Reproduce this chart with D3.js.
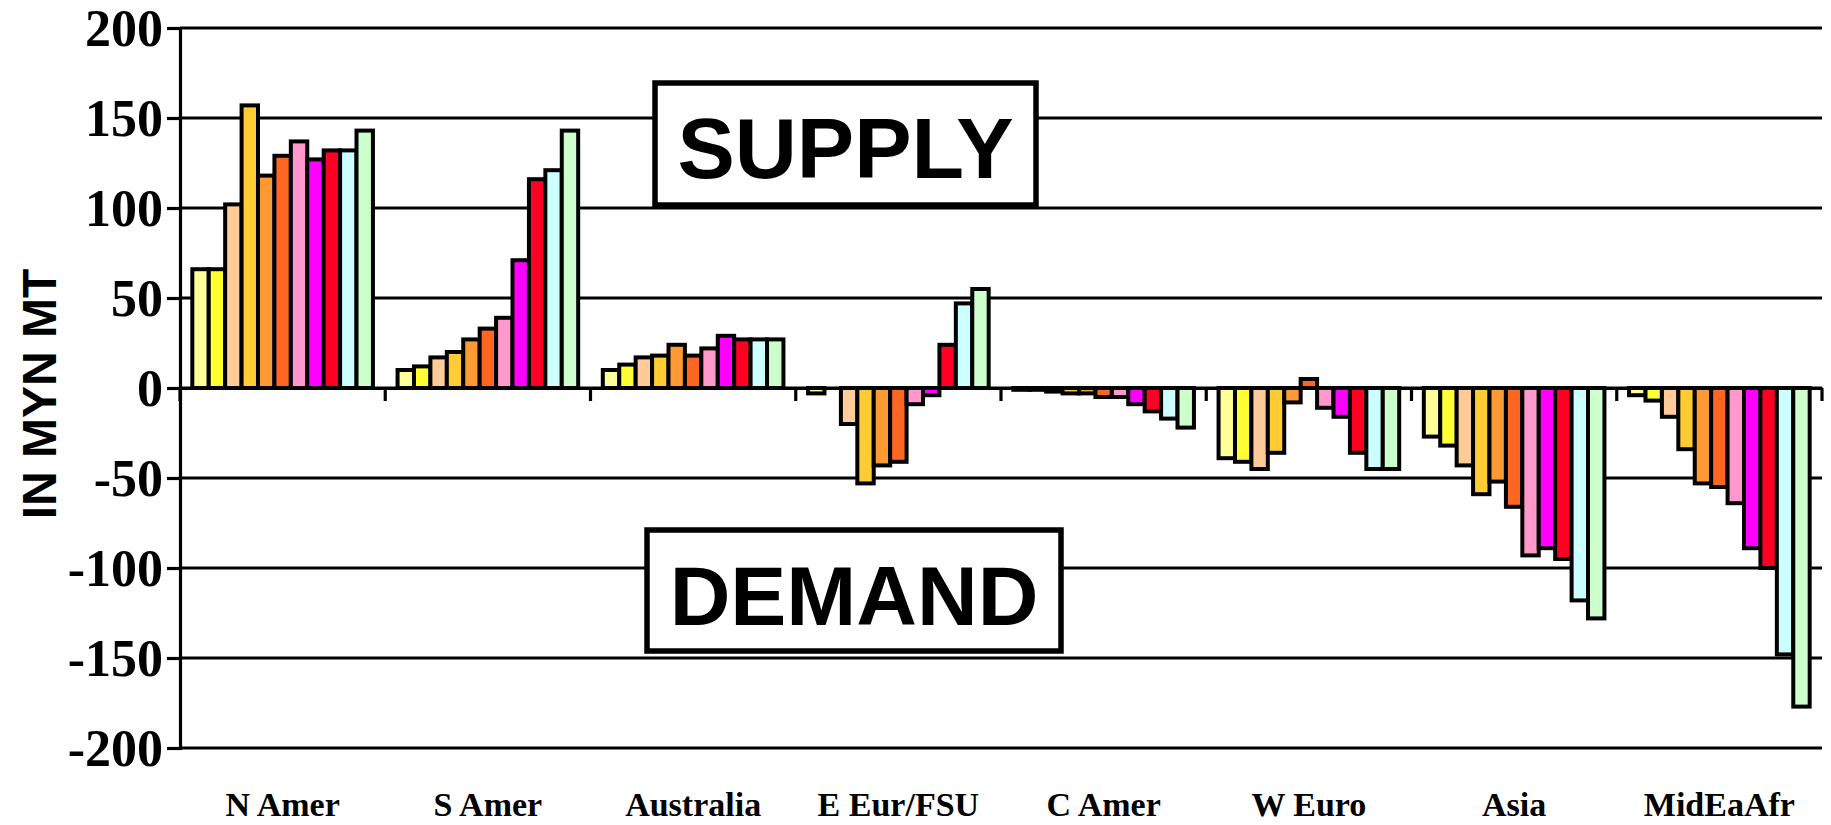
<!DOCTYPE html>
<html>
<head>
<meta charset="utf-8">
<script src="https://cdn.jsdelivr.net/npm/d3@7"></script>
<style>
  html, body { margin: 0; padding: 0; background: #fff; }
  svg { display: block; }
</style>
</head>
<body>
<script>
const categories = ["N Amer", "S Amer", "Australia", "E Eur/FSU", "C Amer", "W Euro", "Asia", "MidEaAfr"];
const seriesColors = ["#FFFF99", "#FFFF33", "#FFCC99", "#FFCC33", "#FF9933", "#FF6622", "#FF99CC", "#FF00FF", "#FF0022", "#CCFFFF", "#CCFFCC"];
const nAmer     = [66, 66, 102, 157, 118, 129, 137, 127, 132, 132, 143];
const sAmer     = [10, 12, 17, 20, 27, 33, 39, 71, 116, 121, 143];
const australia = [10, 13, 17, 18, 24, 18, 22, 29, 27, 27, 27];
const eEurFsu   = [-3, 0, -20, -53, -43, -41, -9, -4, 24, 47, 55];
const cAmer     = [-1, -1, -2, -3, -3, -5, -5, -9, -13, -17, -22];
const wEuro     = [-39, -41, -45, -36, -8, 5, -11, -16, -36, -45, -45];
const asia      = [-27, -32, -43, -59, -52, -66, -93, -89, -95, -118, -128];
const midEaAfr  = [-4, -7, -16, -34, -53, -55, -64, -89, -100, -148, -177];
const values = [nAmer, sAmer, australia, eEurFsu, cAmer, wEuro, asia, midEaAfr];
const yTicks = [200, 150, 100, 50, 0, -50, -100, -150, -200];
const yTitle = "IN MYN MT";
const supplyLabel = "SUPPLY";
const demandLabel = "DEMAND";

const W = 1831, H = 825;
const plotLeft = 180, plotRight = 1822, plotTop = 28, plotBottom = 748;

const svg = d3.select("body").append("svg").attr("width", W).attr("height", H);

const x0 = d3.scaleBand().domain(categories).range([plotLeft, plotRight]).paddingInner(0).paddingOuter(0);
const seriesIdx = d3.range(seriesColors.length);
const x1 = d3.scaleBand().domain(seriesIdx).range([0, x0.bandwidth()]).paddingInner(0).paddingOuter(0.75);
const y = d3.scaleLinear().domain([-200, 200]).range([plotBottom, plotTop]);

// gridlines
svg.append("g").selectAll("line").data(yTicks).join("line")
  .attr("x1", plotLeft).attr("x2", plotRight)
  .attr("y1", d => y(d)).attr("y2", d => y(d))
  .attr("stroke", "#000").attr("stroke-width", 3.2);

// y axis
const yAxis = d3.axisLeft(y).tickValues(yTicks).tickSize(13).tickPadding(4).tickFormat(d => String(d));
const gy = svg.append("g").attr("transform", `translate(${plotLeft},0)`).call(yAxis);
gy.select(".domain").attr("stroke", "#000").attr("stroke-width", 3.2);
gy.selectAll(".tick line").attr("stroke", "#000").attr("stroke-width", 3.2);
gy.selectAll(".tick text")
  .attr("font-family", "'Liberation Serif', 'Times New Roman', serif")
  .attr("font-weight", "bold").attr("font-size", 52).attr("fill", "#000")
  .attr("dy", "0.34em");

// bars
const groups = svg.append("g").selectAll("g").data(categories).join("g")
  .attr("transform", c => `translate(${x0(c)},0)`);
groups.selectAll("rect").data((c, ci) => values[ci].map((v, si) => ({v, si})))
  .join("rect")
  .attr("x", d => x1(d.si))
  .attr("width", x1.bandwidth())
  .attr("y", d => y(Math.max(0, d.v)))
  .attr("height", d => Math.abs(y(d.v) - y(0)))
  .attr("fill", d => seriesColors[d.si])
  .attr("stroke", "#000").attr("stroke-width", 4);

// zero axis with category ticks
const xAxis = d3.axisBottom(x0).tickSize(0).tickFormat("");
const gx = svg.append("g").attr("transform", `translate(0,${y(0)})`).call(xAxis);
gx.select(".domain").attr("stroke", "#000").attr("stroke-width", 3.2);
const bounds = categories.map(c => x0(c)).concat([plotRight]);
svg.append("g").selectAll("line").data(bounds).join("line")
  .attr("x1", d => d).attr("x2", d => d)
  .attr("y1", y(0)).attr("y2", y(0) + 13)
  .attr("stroke", "#000").attr("stroke-width", 3.2);

// category labels
svg.append("g").selectAll("text").data(categories).join("text")
  .attr("x", c => x0(c) + x0.bandwidth() / 2)
  .attr("y", 816)
  .attr("text-anchor", "middle")
  .attr("font-family", "'Liberation Serif', 'Times New Roman', serif")
  .attr("font-weight", "bold").attr("font-size", 34)
  .text(c => c);

// y title
svg.append("text")
  .attr("transform", `translate(56,394) rotate(-90)`)
  .attr("text-anchor", "middle")
  .attr("font-family", "'Liberation Sans', Arial, sans-serif")
  .attr("font-weight", "bold").attr("font-size", 48)
  .text(yTitle);

// SUPPLY / DEMAND boxes
function box(x, yTop, w, h, label, baseline, fs) {
  svg.append("rect").attr("x", x).attr("y", yTop).attr("width", w).attr("height", h)
    .attr("fill", "#fff").attr("stroke", "#000").attr("stroke-width", 5.5);
  svg.append("text").attr("x", x + w / 2).attr("y", baseline)
    .attr("text-anchor", "middle")
    .attr("font-family", "'Liberation Sans', Arial, sans-serif")
    .attr("font-weight", "bold").attr("font-size", fs)
    .text(label);
}
box(655, 83, 381, 122, supplyLabel, 178, 86);
box(647, 530, 414, 121, demandLabel, 625, 84);
</script>
</body>
</html>
